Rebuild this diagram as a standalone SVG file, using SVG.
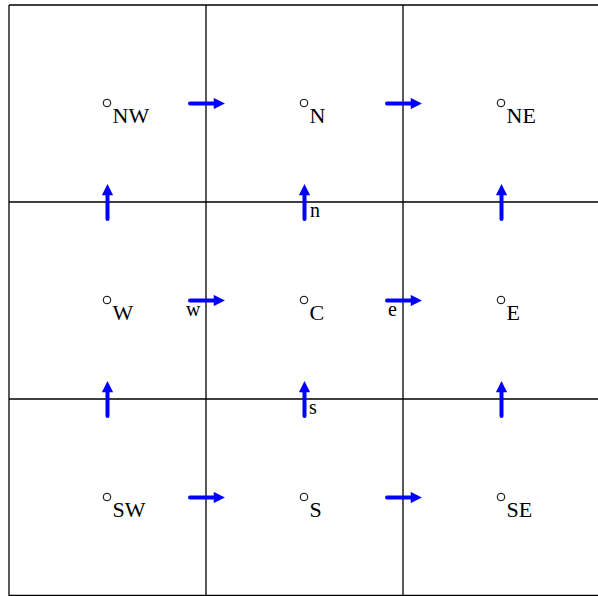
<svg xmlns="http://www.w3.org/2000/svg" width="598" height="596" viewBox="0 0 598 596">
<style>
.grid{stroke:#000;stroke-width:1.3;fill:none}
.pt{fill:none;stroke:#000;stroke-width:1}
.lbl{font-family:"Liberation Serif",serif;font-size:22px;fill:#000}
.sm{font-family:"Liberation Serif",serif;font-size:20px;fill:#000}
.arr{stroke:#0000ff;stroke-width:4;stroke-linecap:round;fill:none;marker-end:url(#ah)}
</style>
<defs>
<marker id="ah" viewBox="0 0 10 10" refX="2" refY="5" markerWidth="3" markerHeight="2.8" orient="auto" markerUnits="strokeWidth">
<path d="M0,0 L10,5 L0,10 z" fill="#0000ff"/>
</marker>
</defs>
<rect width="598" height="596" fill="#fff"/>
<g id="grid">
<path class="grid" d="M9,5 H598 M9,202 H598 M9,399 H598 M9,595.5 H598 M9,5 V596 M206,5 V596 M403,5 V596"/>
</g>
<g id="connectors">
<path class="arr" d="M190,103.5 H216"/>
<path class="arr" d="M387,103.5 H413"/>
<path class="arr" d="M190,300.5 H216"/>
<path class="arr" d="M387,300.5 H413"/>
<path class="arr" d="M190,497.5 H216"/>
<path class="arr" d="M387,497.5 H413"/>
<path class="arr" d="M107.5,219 V193"/>
<path class="arr" d="M304.5,219 V193"/>
<path class="arr" d="M501.5,219 V193"/>
<path class="arr" d="M107.5,416 V390"/>
<path class="arr" d="M304.5,416 V390"/>
<path class="arr" d="M501.5,416 V390"/>
</g>
<g id="NW"><circle class="pt" cx="107" cy="103" r="3.8"/><text class="lbl" x="112.5" y="123">NW</text></g>
<g id="N"><circle class="pt" cx="304" cy="103" r="3.8"/><text class="lbl" x="309.5" y="123">N</text></g>
<g id="NE"><circle class="pt" cx="501" cy="103" r="3.8"/><text class="lbl" x="506.5" y="123">NE</text></g>
<g id="W"><circle class="pt" cx="107" cy="300" r="3.8"/><text class="lbl" x="112.5" y="320">W</text></g>
<g id="C"><circle class="pt" cx="304" cy="300" r="3.8"/><text class="lbl" x="309.5" y="320">C</text></g>
<g id="E"><circle class="pt" cx="501" cy="300" r="3.8"/><text class="lbl" x="506.5" y="320">E</text></g>
<g id="SW"><circle class="pt" cx="107" cy="497" r="3.8"/><text class="lbl" x="112.5" y="517">SW</text></g>
<g id="S"><circle class="pt" cx="304" cy="497" r="3.8"/><text class="lbl" x="309.5" y="517">S</text></g>
<g id="SE"><circle class="pt" cx="501" cy="497" r="3.8"/><text class="lbl" x="506.5" y="517">SE</text></g>
<g id="faces">
<text class="sm" x="310" y="217">n</text>
<text class="sm" x="309" y="414">s</text>
<text class="sm" x="186" y="316">w</text>
<text class="sm" x="388" y="316">e</text>
</g>
</svg>
